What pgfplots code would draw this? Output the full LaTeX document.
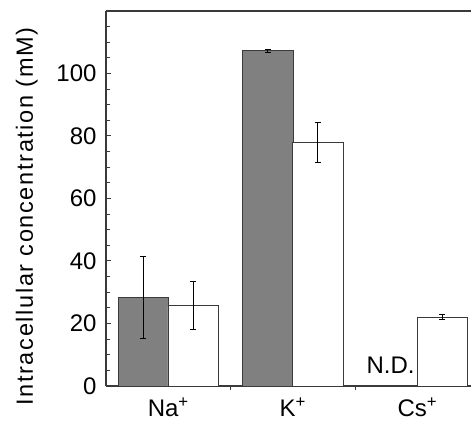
\documentclass[border=0pt]{standalone}
\usepackage{pgfplots}
\pgfplotsset{compat=1.18}
\usepackage{fontspec}
\setmainfont{Liberation Sans}
\definecolor{barg}{HTML}{808080}
\definecolor{edge}{HTML}{3A3A3A}
\begin{document}
\begin{tikzpicture}
\begin{axis}[
  name=ax,
  scale only axis,
  width=365pt, height=375pt,
  xmin=-0.5, xmax=2.43,
  ymin=0, ymax=120,
  axis x line*=bottom, axis y line*=left,
  axis line style={draw=edge, line width=1.3pt},
  xtick={0,1,2},
  xticklabels={Na\textsuperscript{+}, K\textsuperscript{+}, Cs\textsuperscript{+}},
  major x tick style={draw=none},
  minor xtick={0.5,1.5},
  ytick={0,20,40,60,80,100},
  minor ytick={5,10,15,25,30,35,45,50,55,65,70,75,85,90,95,105,110,115},
  tick align=inside,
  major tick length=5pt, minor tick length=4pt,
  tick style={draw=edge, line width=1pt},
  /pgf/number format/assume math mode=true,
  ticklabel style={font=\fontsize{24}{25}\selectfont, text=black},
  xticklabel style={anchor=base, inner sep=0pt, yshift=-26pt},
  yticklabel style={xshift=-6pt},
  ylabel={Intracellular concentration (mM)},
  ylabel style={font=\fontsize{23.5}{25}\selectfont\addfontfeatures{LetterSpace=7}, anchor=base, at={([xshift=-73pt,yshift=-18pt]axis description cs:0,0.5)}},
  ybar, bar width=0.405,
  clip=false,
]
\draw[edge, line width=1.3pt] (rel axis cs:0,1) -- (rel axis cs:1,1);
\addplot[bar shift=-0.2, fill=barg, draw=edge, line width=0.9pt,
  error bars/.cd, y dir=both, y explicit,
  error bar style={black, line width=0.9pt},
  error mark options={rotate=90, mark size=3pt, black, line width=0.9pt}]
  coordinates {(0,28.3) +- (0,13.0) (1,107.3) +- (0,0.5)};
\addplot[bar shift=0.2, fill=white, draw=edge, line width=0.9pt,
  error bars/.cd, y dir=both, y explicit,
  error bar style={black, line width=0.9pt},
  error mark options={rotate=90, mark size=3pt, black, line width=0.9pt}]
  coordinates {(0,25.8) +- (0,7.6) (1,77.8) +- (0,6.4) (2,22.0) +- (0,0.8)};
\node[anchor=base, font=\fontsize{24}{25}\selectfont, inner sep=0pt] at (axis cs:1.784,4.06) {N.D.};
\end{axis}
\pgfresetboundingbox
\path[use as bounding box] ([xshift=-106pt,yshift=-36pt]ax.south west) rectangle ([yshift=11pt]ax.north east);
\end{tikzpicture}
\end{document}
